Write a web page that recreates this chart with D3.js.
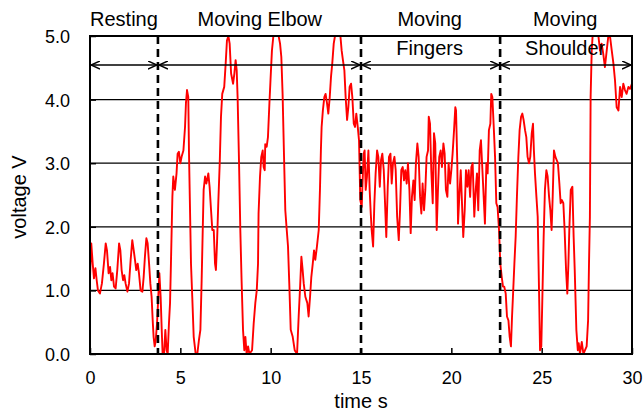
<!DOCTYPE html>
<html>
<head>
<meta charset="utf-8">
<script src="https://cdn.jsdelivr.net/npm/d3@7"></script>
<style>
  body { margin: 0; background: #fff; }
  text { font-family: "Liberation Sans", Arial, sans-serif; fill: #000; }
</style>
</head>
<body>
<div id="chart"></div>
<script>
// time (s) and voltage (V)
var timeS = [
  0, 0.07, 0.15, 0.22, 0.3, 0.37, 0.44, 0.55, 0.66, 0.77, 0.87, 0.94, 1.03, 1.11, 1.18, 1.25, 1.33, 1.42, 1.51, 1.61,
  1.68, 1.75, 1.83, 1.9, 1.97, 2.07, 2.16, 2.25, 2.34, 2.42, 2.49, 2.56, 2.64, 2.71, 2.8, 2.9, 2.97, 3.04, 3.12, 3.19,
  3.27, 3.34, 3.41, 3.47, 3.52, 3.58, 3.63, 3.71, 3.78, 3.84, 3.91, 3.97, 4.02, 4.1, 4.17, 4.24, 4.3, 4.37, 4.43, 4.48,
  4.52, 4.56, 4.61, 4.7, 4.79, 4.85, 4.92, 5.0, 5.07, 5.17, 5.26, 5.31, 5.37, 5.44, 5.48, 5.54, 5.59, 5.66, 5.74, 5.85,
  5.94, 6.03, 6.11, 6.18, 6.24, 6.29, 6.37, 6.44, 6.55, 6.62, 6.7, 6.77, 6.85, 6.92, 6.97, 7.03, 7.1, 7.18, 7.25, 7.32,
  7.43, 7.51, 7.58, 7.66, 7.73, 7.81, 7.92, 7.99, 8.06, 8.12, 8.17, 8.25, 8.32, 8.39, 8.47, 8.54, 8.6, 8.67, 8.75, 8.82,
  8.97, 9.06, 9.15, 9.23, 9.3, 9.33, 9.41, 9.48, 9.56, 9.61, 9.67, 9.7, 9.78, 9.85, 9.93, 9.99, 10.07, 10.15, 10.44, 10.52,
  10.59, 10.66, 10.74, 10.81, 10.89, 10.96, 11.03, 11.11, 11.22, 11.33, 11.46, 11.55, 11.63, 11.7, 11.77, 11.83, 11.92, 12.03, 12.1, 12.18,
  12.25, 12.33, 12.4, 12.47, 12.56, 12.66, 12.73, 12.78, 12.82, 12.89, 12.97, 13.04, 13.12, 13.19, 13.27, 13.34, 13.41, 13.49, 13.56, 13.86,
  13.93, 14.0, 14.08, 14.15, 14.23, 14.3, 14.37, 14.45, 14.52, 14.6, 14.67, 14.74, 14.82, 14.89, 14.93, 14.96, 15.04, 15.07, 15.15, 15.2,
  15.26, 15.33, 15.41, 15.48, 15.54, 15.59, 15.67, 15.74, 15.81, 15.89, 15.96, 16.04, 16.11, 16.18, 16.26, 16.33, 16.4, 16.48, 16.55, 16.63,
  16.7, 16.77, 16.85, 16.92, 17.0, 17.09, 17.16, 17.23, 17.31, 17.38, 17.45, 17.53, 17.6, 17.68, 17.75, 17.82, 17.9, 17.97, 18.04, 18.12,
  18.19, 18.27, 18.34, 18.41, 18.49, 18.56, 18.63, 18.71, 18.75, 18.82, 18.89, 18.97, 19.04, 19.11, 19.19, 19.26, 19.33, 19.41, 19.48, 19.56,
  19.63, 19.7, 19.78, 19.85, 19.93, 20.0, 20.07, 20.15, 20.22, 20.26, 20.33, 20.37, 20.44, 20.52, 20.59, 20.66, 20.74, 20.81, 20.89, 20.96,
  21.04, 21.11, 21.18, 21.27, 21.35, 21.42, 21.49, 21.57, 21.64, 21.72, 21.79, 21.86, 21.94, 22.01, 22.08, 22.16, 22.21, 22.27, 22.34, 22.42,
  22.49, 22.56, 22.64, 22.71, 22.79, 22.86, 22.93, 23.01, 23.08, 23.16, 23.23, 23.3, 23.36, 23.41, 23.49, 23.56, 23.63, 23.71, 23.78, 23.86,
  23.93, 24.0, 24.08, 24.15, 24.22, 24.3, 24.37, 24.45, 24.52, 24.57, 24.63, 24.71, 24.78, 24.86, 24.91, 24.98, 25.04, 25.11, 25.18, 25.26,
  25.33, 25.41, 25.48, 25.55, 25.61, 25.68, 25.76, 25.83, 25.9, 25.98, 26.05, 26.12, 26.2, 26.27, 26.35, 26.42, 26.48, 26.53, 26.61, 26.7,
  26.77, 26.83, 26.92, 27.0, 27.05, 27.12, 27.22, 27.31, 27.4, 27.49, 27.57, 27.62, 27.67, 27.71, 27.77, 27.82, 28.14, 28.23, 28.32, 28.41,
  28.5, 28.6, 28.69, 28.78, 28.88, 28.97, 29.06, 29.15, 29.25, 29.34, 29.43, 29.52, 29.61, 29.7, 29.8, 29.89, 30.0
];
var voltage = [
  1.2, 1.74, 1.42, 1.19, 1.35, 1.16, 1.0, 0.95, 1.11, 1.42, 1.74, 1.63, 1.27, 1.37, 1.16, 1.27, 1.06, 1.03, 1.32, 1.74,
  1.63, 1.32, 1.16, 1.24, 1.11, 0.98, 1.11, 1.48, 1.79, 1.63, 1.48, 1.32, 1.42, 1.27, 1.0, 0.98, 1.21, 1.53, 1.82, 1.74,
  1.42, 1.11, 0.9, 0.53, 0.27, 0.12, 0.19, 0.48, 0.9, 1.27, 0.9, 0.38, 0, 0, 0.38, 0.06, 0, 0.48, 0.8, 1.42,
  1.95, 2.47, 2.79, 2.58, 2.84, 3.15, 3.18, 3.0, 3.1, 3.2, 3.57, 3.94, 4.15, 4.04, 3.15, 2.21, 1.42, 0.9, 0.27, 0,
  0, 0.22, 0.38, 1.16, 1.95, 2.58, 2.79, 2.68, 2.84, 2.63, 2.26, 1.95, 1.95, 1.42, 1.32, 1.74, 2.37, 3.0, 3.73, 4.09,
  4.2, 4.57, 4.93, 5.0, 4.88, 4.41, 4.25, 4.41, 4.62, 4.46, 4.04, 3.0, 1.95, 1.16, 0.38, 0.06, 0.27, 0, 0.12, 0,
  0.06, 0.48, 0.8, 1.0, 1.42, 2.21, 2.79, 3.1, 3.2, 2.94, 2.89, 3.3, 3.26, 3.41, 3.94, 4.3, 4.77, 5.0, 5.0, 4.88,
  4.67, 4.09, 3.1, 2.26, 1.95, 1.69, 1.11, 0.38, 0.27, 0.06, 0, 0.59, 1.06, 1.53, 1.32, 1.11, 0.9, 0.8, 0.59, 0.9,
  1.21, 1.42, 1.63, 1.48, 1.69, 1.95, 2.6, 3.2, 3.57, 3.83, 4.04, 4.09, 3.94, 3.78, 4.04, 4.36, 4.57, 4.88, 5.0, 5.0,
  4.77, 4.62, 4.46, 4.04, 3.68, 3.88, 4.2, 4.25, 4.04, 3.62, 3.57, 3.78, 3.57, 3.36, 2.83, 2.42, 2.31, 2.58, 3.15, 3.2,
  2.58, 2.79, 3.2, 2.58, 2.21, 1.95, 1.69, 2.37, 2.84, 3.2, 3.1, 2.63, 3.05, 3.15, 2.89, 2.37, 1.84, 2.63, 3.1, 3.15,
  2.68, 3.0, 3.1, 2.89, 2.16, 1.79, 2.26, 2.89, 2.94, 2.73, 2.89, 2.68, 3.0, 2.58, 1.9, 2.47, 2.73, 2.42, 3.0, 3.31,
  3.1, 2.47, 2.21, 2.68, 2.26, 2.58, 3.1, 3.2, 3.73, 3.62, 2.89, 2.37, 3.47, 3.31, 1.95, 2.58, 3.1, 3.2, 2.94, 3.31,
  3.15, 2.58, 2.47, 3.0, 2.68, 2.89, 3.15, 3.52, 3.88, 3.83, 3.0, 2.05, 2.47, 2.89, 2.37, 1.84, 2.26, 2.89, 2.63, 2.89,
  2.47, 2.94, 3.0, 2.16, 2.58, 2.84, 2.26, 3.2, 3.36, 2.89, 2.47, 2.05, 3.0, 2.84, 3.52, 3.62, 4.09, 4.04, 3.62, 3.1,
  2.37, 2.31, 1.95, 1.42, 1.21, 1.06, 1.06, 0.95, 0.59, 0.53, 0.27, 0.12, 0.59, 0.9, 1.42, 1.84, 2.47, 3.1, 3.52, 3.73,
  3.78, 3.68, 3.52, 3.41, 3.1, 3.0, 3.1, 3.47, 3.62, 3.2, 2.84, 2.47, 2.16, 0.9, 0.06, 0.12, 0.9, 1.84, 2.58, 2.89,
  2.79, 2.47, 2.26, 1.95, 2.47, 3.2, 3.1, 3.05, 3.0, 2.68, 2.37, 2.42, 2.37, 1.95, 1.32, 0.95, 1.42, 1.95, 2.58, 2.63,
  1.84, 1.32, 0.38, 0.06, 0.17, 0, 0.19, 0, 0.06, 0.12, 0.53, 1.42, 2.16, 4.04, 4.77, 5.0, 5.0, 4.77, 4.88, 4.72,
  4.51, 4.77, 5.0, 5.0, 4.77, 4.57, 4.3, 3.88, 3.83, 4.2, 4.04, 4.25, 4.15, 4.09, 4.2, 4.17, 4.25
];

// phases: boundaries (s) and labels
var phaseEdges = [0, 3.76, 15, 22.7, 30];
var phaseLabels = [["Resting"], ["Moving Elbow"], ["Moving", "Fingers"], ["Moving", "Shoulder"]];
var phaseCenters = [1.88, 9.4, 18.8, 26.3];

var xTicks = [0, 5, 10, 15, 20, 25, 30];
var yTicks = [0, 1, 2, 3, 4, 5];

var margin = {top: 36, right: 12, bottom: 58, left: 90},
    width = 644 - margin.left - margin.right,
    height = 412 - margin.top - margin.bottom;

var svg = d3.select("#chart").append("svg")
    .attr("width", 644)
    .attr("height", 412);

var defs = svg.append("defs");
defs.append("marker")
    .attr("id", "head")
    .attr("viewBox", "0 0 10 10")
    .attr("refX", 10).attr("refY", 5)
    .attr("markerWidth", 9).attr("markerHeight", 9)
    .attr("markerUnits", "userSpaceOnUse")
    .attr("orient", "auto-start-reverse")
  .append("path")
    .attr("d", "M0,0.5L10,5L0,9.5")
    .attr("fill", "none")
    .attr("stroke", "#000")
    .attr("stroke-width", 1.6);

defs.append("clipPath").attr("id", "plotclip")
  .append("rect").attr("width", width).attr("height", height);

var g = svg.append("g")
    .attr("transform", "translate(" + margin.left + "," + margin.top + ")");

var x = d3.scaleLinear().domain([0, 30]).range([0, width]);
var y = d3.scaleLinear().domain([0, 5]).range([height, 0]);

// horizontal grid
g.append("g")
  .selectAll("line")
  .data(yTicks.slice(1, -1))
  .join("line")
    .attr("x1", 0).attr("x2", width)
    .attr("y1", function(d) { return y(d); })
    .attr("y2", function(d) { return y(d); })
    .attr("stroke", "#000")
    .attr("stroke-width", 1.2);

// axes, ticks point inwards
var yAxis = g.append("g")
    .call(d3.axisLeft(y).tickValues(yTicks).tickSize(-6).tickPadding(20).tickFormat(d3.format(".1f")));
var xAxis = g.append("g")
    .attr("transform", "translate(0," + height + ")")
    .call(d3.axisBottom(x).tickValues(xTicks).tickSize(-6).tickPadding(20).tickFormat(d3.format("d")));

[yAxis, xAxis].forEach(function(a) {
  a.select(".domain").remove();
  a.selectAll(".tick line").attr("stroke", "#000").attr("stroke-width", 1.5);
  a.selectAll(".tick text")
    .style("font-family", "'Liberation Sans', Arial, sans-serif")
    .style("font-size", "18px")
    .attr("fill", "#000");
});
yAxis.selectAll(".tick text").attr("dy", "0.36em");
xAxis.selectAll(".tick text").attr("dy", "0.72em").attr("y", 17);

// signal
var line = d3.line()
    .x(function(d) { return x(timeS[d]); })
    .y(function(d) { return y(voltage[d]); });

g.append("path")
    .datum(d3.range(timeS.length))
    .attr("clip-path", "url(#plotclip)")
    .attr("d", line)
    .attr("fill", "none")
    .attr("stroke", "#ff0000")
    .attr("stroke-width", 1.9)
    .attr("stroke-linejoin", "round");

// phase boundaries
g.append("g")
  .selectAll("line")
  .data(phaseEdges.slice(1, -1))
  .join("line")
    .attr("x1", function(d) { return x(d); })
    .attr("x2", function(d) { return x(d); })
    .attr("y1", 0).attr("y2", height)
    .attr("stroke", "#000")
    .attr("stroke-width", 2.6)
    .attr("stroke-dasharray", "8,5");

// arrows between boundaries
var arrowY = 29;
g.append("g")
  .selectAll("line")
  .data(d3.pairs(phaseEdges))
  .join("line")
    .attr("x1", function(d) { return x(d[0]) + 1; })
    .attr("x2", function(d) { return x(d[1]) - 1; })
    .attr("y1", arrowY).attr("y2", arrowY)
    .attr("stroke", "#000")
    .attr("stroke-width", 1.3)
    .attr("marker-start", "url(#head)")
    .attr("marker-end", "url(#head)");

// phase labels
phaseLabels.forEach(function(lines, i) {
  lines.forEach(function(txt, j) {
    g.append("text")
      .attr("x", x(phaseCenters[i]))
      .attr("y", -10 + j * 29)
      .attr("text-anchor", "middle")
      .style("font-size", "20px")
      .text(txt);
  });
});

// frame
g.append("rect")
    .attr("width", width).attr("height", height)
    .attr("fill", "none")
    .attr("stroke", "#000")
    .attr("stroke-width", 2);

// axis titles
svg.append("text")
    .attr("x", margin.left + x(15))
    .attr("y", 408)
    .attr("text-anchor", "middle")
    .style("font-size", "20px")
    .text("time s");

svg.append("text")
    .attr("transform", "translate(26," + (margin.top + height / 2 + 2) + ") rotate(-90)")
    .attr("text-anchor", "middle")
    .style("font-size", "20px")
    .text("voltage V");
</script>
</body>
</html>
